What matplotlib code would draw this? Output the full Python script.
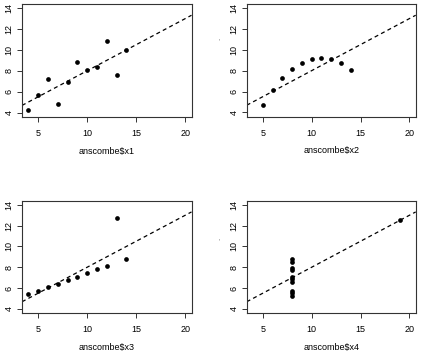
import matplotlib
matplotlib.use("Agg")
import matplotlib.pyplot as plt
import numpy as np

plt.rcParams['font.family'] = ['Liberation Sans', 'DejaVu Sans']

x123 = [10, 8, 13, 9, 11, 14, 6, 4, 12, 7, 5]
x4 = [8, 8, 8, 8, 8, 8, 8, 19, 8, 8, 8]
y1 = [8.04, 6.95, 7.58, 8.81, 8.33, 9.96, 7.24, 4.26, 10.84, 4.82, 5.68]
y2 = [9.14, 8.14, 8.74, 8.77, 9.26, 8.10, 6.13, 3.10, 9.13, 7.26, 4.74]
y3 = [7.46, 6.77, 12.74, 7.11, 7.81, 8.84, 6.08, 5.39, 8.15, 6.42, 5.73]
y4 = [6.58, 5.76, 7.71, 8.84, 8.47, 7.04, 5.25, 12.50, 5.56, 7.91, 6.89]
xlabels = ["anscombe$x1", "anscombe$x2", "anscombe$x3", "anscombe$x4"]
xticks = [5, 10, 15, 20]
yticks = [4, 6, 8, 10, 12, 14]
intercept, slope = 3.0, 0.5

W, H = 422, 355
fig = plt.figure(figsize=(W / 100, H / 100), dpi=100)

boxes = [(22, 4, 191.5, 116.7), (246.7, 4, 415.7, 116.5),
         (22, 200.7, 191.5, 313), (246.7, 200.7, 415.7, 313)]
data = [(x123, y1), (x123, y2), (x123, y3), (x4, y4)]

for i, ((l, t, r, b), (xs, ys)) in enumerate(zip(boxes, data)):
    ax = fig.add_axes([l / W, 1 - b / H, (r - l) / W, (b - t) / H])
    ax.set_xlim(3.36, 20.64)
    ax.set_ylim(3.6, 14.4)
    ax.plot(xs, ys, 'o', color='black', markersize=3.4, markeredgewidth=0, clip_on=True)
    xx = np.array([3.36, 20.64])
    ax.plot(xx, intercept + slope * xx, color='black', lw=0.9, dashes=(3.2, 2.6))
    for s in ax.spines.values():
        s.set_linewidth(0.8)
        s.set_color('#333333')
    ax.set_xticks(xticks)
    ax.set_yticks(yticks)
    ax.set_xticklabels([str(v) for v in xticks], fontsize=6.5)
    ax.set_yticklabels([str(v) for v in yticks], fontsize=6.5, rotation=90, va='center')
    ax.tick_params(axis='both', length=3.5, width=0.7, color='#333333', pad=2.5)
    ax.tick_params(axis='x', pad=5.5)
    ax.set_xlabel(xlabels[i], fontsize=6.5, labelpad=6)

fig.text(219 / W, 1 - 42 / H, "'", fontsize=5, color='#777777', ha='center', va='center')
fig.text(219 / W, 1 - 242 / H, "'", fontsize=5, color='#777777', ha='center', va='center')

fig.savefig("out.png", dpi=100)
